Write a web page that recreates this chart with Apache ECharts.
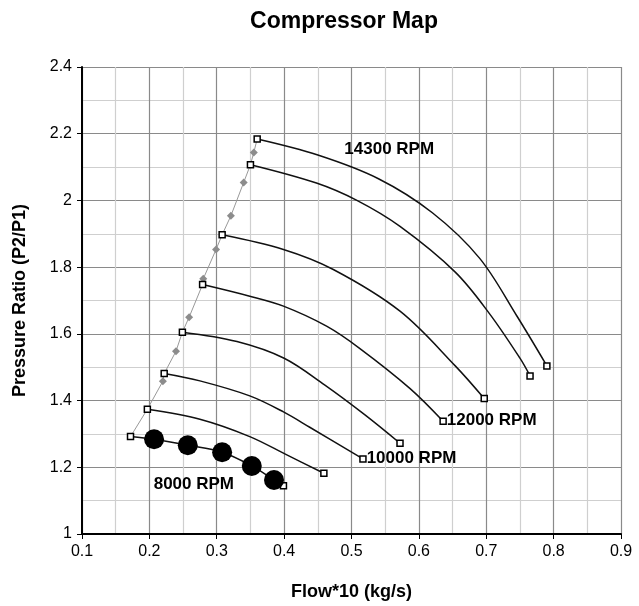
<!DOCTYPE html>
<html>
<head>
<meta charset="utf-8">
<script src="https://cdn.jsdelivr.net/npm/echarts@6/dist/echarts.min.js"></script>
<style>
  html, body { margin: 0; padding: 0; background: #fff; }
  #main { width: 639px; height: 606px; }
</style>
</head>
<body>
<div id="main"></div>
<script>
// speed lines, flow*10 and pressure ratio
const speed1x = [0.172, 0.207, 0.257, 0.308, 0.352, 0.385, 0.399];
const speed1y = [1.292, 1.284, 1.266, 1.245, 1.204, 1.162, 1.145];
const speed2x = [0.197, 0.275, 0.349, 0.404, 0.459];
const speed2y = [1.374, 1.344, 1.292, 1.237, 1.182];
const speed3x = [0.222, 0.275, 0.349, 0.399, 0.438, 0.517];
const speed3y = [1.481, 1.459, 1.414, 1.366, 1.320, 1.225];
const speed4x = [0.249, 0.330, 0.400, 0.460, 0.520, 0.572];
const speed4y = [1.605, 1.577, 1.527, 1.447, 1.357, 1.272];
const speed5x = [0.279, 0.349, 0.399, 0.463, 0.5125, 0.587, 0.636];
const speed5y = [1.748, 1.713, 1.683, 1.623, 1.556, 1.436, 1.338];
const speed6x = [0.308, 0.399, 0.473, 0.572, 0.654, 0.697];
const speed6y = [1.897, 1.853, 1.793, 1.668, 1.504, 1.406];
const speed7x = [0.350, 0.448, 0.508, 0.572, 0.654, 0.705, 0.750, 0.765];
const speed7y = [2.107, 2.052, 2.000, 1.922, 1.785, 1.660, 1.527, 1.474];
const speed8x = [0.360, 0.450, 0.540, 0.620, 0.690, 0.745, 0.790];
const speed8y = [2.184, 2.136, 2.065, 1.963, 1.827, 1.655, 1.504];

// operating points on the 8000 rpm line
const opX = [0.207, 0.257, 0.308, 0.352, 0.385];
const opY = [1.284, 1.266, 1.245, 1.204, 1.162];

// surge line (true = diamond marker)
const surgeX = [0.172, 0.197, 0.220, 0.222, 0.2395, 0.249, 0.259, 0.279, 0.280, 0.299, 0.308, 0.321, 0.340, 0.350, 0.355, 0.360];
const surgeY = [1.292, 1.374, 1.458, 1.481, 1.548, 1.605, 1.650, 1.748, 1.765, 1.853, 1.897, 1.954, 2.054, 2.107, 2.144, 2.184];
const surgeMark = [false, false, true, false, true, false, true, false, true, true, false, true, true, false, true, false];

// rpm labels
const labelText = ['14300 RPM', '12000 RPM', '10000 RPM', '8000 RPM'];
const labelX = [0.556, 0.637, 0.518, 0.266];
const labelY = [2.152, 1.340, 1.226, 1.150];
const labelPos = ['inside', 'right', 'right', 'inside'];

const xTicks = [0.1, 0.9, 0.1];
const yTicks = [1, 2.4, 0.2];

function zip(xs, ys) {
    return xs.map((x, i) => [x, ys[i]]);
}

const speeds = [
    [speed1x, speed1y], [speed2x, speed2y], [speed3x, speed3y], [speed4x, speed4y],
    [speed5x, speed5y], [speed6x, speed6y], [speed7x, speed7y], [speed8x, speed8y]
];

const font = 'Liberation Sans, Arial, sans-serif';
const chart = echarts.init(document.getElementById('main'));

const series = [];

series.push({
    type: 'line',
    data: zip(surgeX, surgeY),
    lineStyle: { color: '#999', width: 1 },
    itemStyle: { color: '#8c8c8c', opacity: 1 },
    symbol: 'diamond',
    symbolSize: (v, p) => surgeMark[p.dataIndex] ? 8 : 0,
    showAllSymbol: true,
    z: 2,
    silent: true
});

speeds.forEach(s => {
    const n = s[0].length;
    series.push({
        type: 'line',
        data: zip(s[0], s[1]),
        smooth: 0.35,
        lineStyle: { color: '#111', width: 1.5 },
        symbol: 'rect',
        symbolSize: (v, p) => (p.dataIndex === 0 || p.dataIndex === n - 1) ? 6 : 0,
        showAllSymbol: true,
        itemStyle: { color: '#fff', borderColor: '#000', borderWidth: 1.5, opacity: 1 },
        z: 3,
        silent: true
    });
});

series.push({
    type: 'scatter',
    data: zip(opX, opY),
    symbol: 'circle',
    symbolSize: 20,
    itemStyle: { color: '#000', opacity: 1 },
    z: 4,
    silent: true
});

series.push({
    type: 'scatter',
    data: labelText.map((t, i) => ({
        value: [labelX[i], labelY[i]],
        label: { position: labelPos[i], distance: 3 }
    })),
    symbolSize: 0,
    itemStyle: { opacity: 1 },
    label: {
        show: true,
        formatter: p => labelText[p.dataIndex],
        color: '#000',
        fontFamily: font,
        fontWeight: 'bold',
        fontSize: 17
    },
    z: 5,
    silent: true
});

chart.setOption({
    animation: false,
    backgroundColor: '#fff',
    title: {
        text: 'Compressor Map',
        left: 339,
        textAlign: 'center',
        top: 5,
        textStyle: { fontFamily: font, fontWeight: 'bold', fontSize: 23, color: '#000' }
    },
    grid: { left: 82, right: 18, top: 67, bottom: 71 },
    xAxis: {
        type: 'value',
        min: xTicks[0], max: xTicks[1], interval: xTicks[2],
        name: 'Flow*10 (kg/s)',
        nameLocation: 'middle',
        nameGap: 49,
        nameTextStyle: { fontFamily: font, fontWeight: 'bold', fontSize: 18, color: '#000' },
        axisLine: { show: true, onZero: false, lineStyle: { color: '#000', width: 2 } },
        axisTick: { show: true, length: 5, lineStyle: { color: '#000' } },
        axisLabel: { fontFamily: font, fontSize: 16, color: '#000', margin: 10 },
        splitLine: { show: true, lineStyle: { color: '#8a8a8a', width: 1.2 } },
        minorTick: { show: false, splitNumber: 2 },
        minorSplitLine: { show: true, lineStyle: { color: '#cfcfcf', width: 1.2 } }
    },
    yAxis: {
        type: 'value',
        min: yTicks[0], max: yTicks[1], interval: yTicks[2],
        name: 'Pressure Ratio (P2/P1)',
        nameLocation: 'middle',
        nameGap: 53,
        nameTextStyle: { fontFamily: font, fontWeight: 'bold', fontSize: 18, color: '#000' },
        axisLine: { show: true, onZero: false, lineStyle: { color: '#000', width: 2 } },
        axisTick: { show: true, length: 5, lineStyle: { color: '#000' } },
        axisLabel: { fontFamily: font, fontSize: 16, color: '#000', margin: 10 },
        splitLine: { show: true, lineStyle: { color: '#8a8a8a', width: 1.2 } },
        minorTick: { show: false, splitNumber: 2 },
        minorSplitLine: { show: true, lineStyle: { color: '#cfcfcf', width: 1.2 } }
    },
    series: series
});
</script>
</body>
</html>
